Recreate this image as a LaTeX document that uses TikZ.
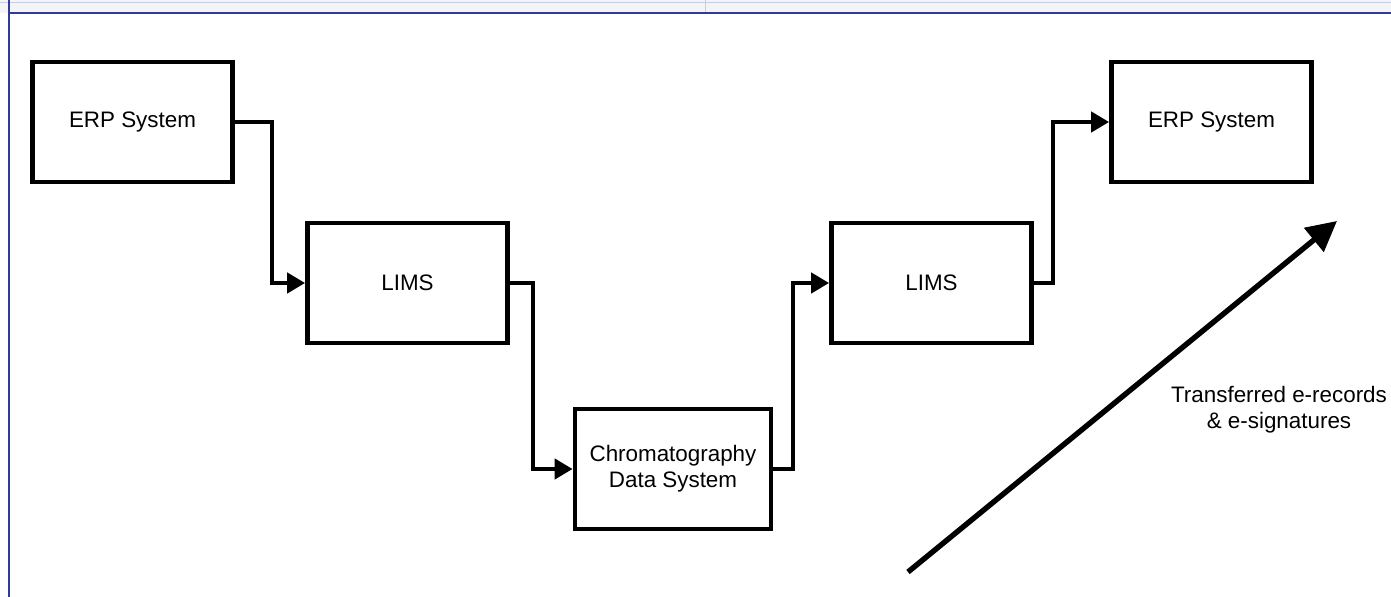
\documentclass[tikz,border=0pt]{standalone}
\usepackage{fontspec}
\setmainfont{Liberation Sans}
\usetikzlibrary{arrows.meta}
\definecolor{frameblue}{HTML}{2E3B9C}
\definecolor{bandgray}{HTML}{F4F4F6}
\definecolor{bandline}{HTML}{C8CCE4}
\begin{document}
\begin{tikzpicture}[x=0.5pt,y=-0.5pt,
  sysbox/.style={draw=black,line width=2.4pt,minimum width=100pt,minimum height=60pt,inner sep=0pt,align=center,font=\fontsize{11.2}{13}\selectfont},
  flow/.style={draw=black,line width=2.2pt,-{Triangle[length=9pt,width=10pt]}},
  bigarrow/.style={draw=black,line width=2.7pt,-{Triangle[length=15pt,width=15pt]}},
  lbl/.style={align=center,font=\fontsize{11.2}{13}\selectfont}]
\useasboundingbox (0,0) rectangle (1391,597);
% window frame
\fill[bandgray] (0,0) rectangle (1391,13);
\draw[bandline,line width=0.5pt] (0,2.5) -- (1391,2.5);
\draw[bandline,line width=0.5pt] (705,0) -- (705,12);
\draw[frameblue,line width=1pt] (9,13) -- (1391,13);
\draw[frameblue,line width=1pt] (9,0) -- (9,597);
% boxes
\node[sysbox] (erp1) at (132.5,122) {ERP System};
\node[sysbox] (lims1) at (407.5,283) {LIMS};
\node[sysbox,minimum width=98pt] (cds) at (673,469) {Chromatography\\Data System};
\node[sysbox] (lims2) at (931.5,283) {LIMS};
\node[sysbox] (erp2) at (1211.5,122) {ERP System};
% connectors
\draw[flow] (erp1.east) -- (272,122) |- (lims1.west);
\draw[flow] (lims1.east) -- (533,283) |- (cds.west);
\draw[flow] (cds.east) -- (793,469) |- (lims2.west);
\draw[flow] (lims2.east) -- (1053,283) |- (erp2.west);
% big arrow
\coordinate (a0) at (908,572);
\coordinate (a1) at (1337,221);
\draw[bigarrow] (a0) -- (a1);
\node[lbl] (note) at (1279,410) {Transferred e-records\\\& e-signatures};
\end{tikzpicture}
\end{document}
